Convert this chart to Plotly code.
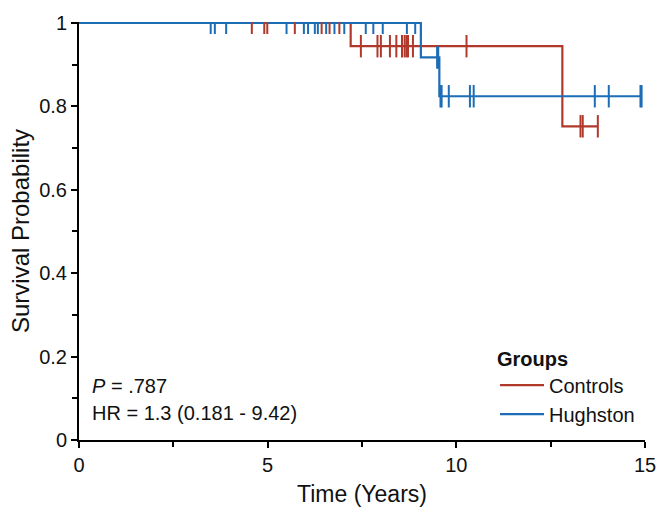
import plotly.graph_objects as go

# Kaplan-Meier step curves
controls_t = [0.0, 7.20, 12.81, 13.75]
controls_s = [1.0, 0.944, 0.752, 0.752]
hughston_t = [0.0, 9.06, 9.55, 14.91]
hughston_s = [1.0, 0.917, 0.824, 0.824]

# Censoring marks
controls_cens_t = [4.58, 4.91, 4.99, 5.72, 6.43, 6.64, 6.90,
                   7.47, 7.91, 8.00, 8.24, 8.41, 8.56, 8.63, 8.68, 8.72, 8.85, 10.27,
                   13.29, 13.35, 13.75]
controls_cens_s = [1.0, 1.0, 1.0, 1.0, 1.0, 1.0, 1.0,
                   0.944, 0.944, 0.944, 0.944, 0.944, 0.944, 0.944, 0.944, 0.944, 0.944, 0.944,
                   0.752, 0.752, 0.752]
hughston_cens_t = [3.49, 3.60, 3.90, 5.50, 5.96, 6.07, 6.25, 6.33, 6.55, 6.77, 7.03,
                   7.60, 7.80, 8.05, 8.69, 8.91,
                   9.49, 9.52,
                   9.58, 9.61, 9.80, 10.36, 10.46, 13.67, 14.04, 14.88, 14.91]
hughston_cens_s = [1.0] * 16 + [0.917] * 2 + [0.824] * 9

x_ticks = [0, 5, 10, 15]
y_ticks = [0, 0.2, 0.4, 0.6, 0.8, 1]

RED = "#B0392B"
BLUE = "#1D6DB6"
FONT = "Liberation Sans, Arial, sans-serif"

fig = go.Figure()
fig.add_trace(go.Scatter(x=controls_t, y=controls_s, mode="lines", line_shape="hv",
                         line=dict(color=RED, width=2.2), name="Controls"))
fig.add_trace(go.Scatter(x=hughston_t, y=hughston_s, mode="lines", line_shape="hv",
                         line=dict(color=BLUE, width=2.2), name="Hughston"))
fig.add_trace(go.Scatter(x=controls_cens_t, y=controls_cens_s, mode="markers", showlegend=False,
                         cliponaxis=True,
                         marker=dict(symbol="line-ns", size=16, line=dict(color=RED, width=2))))
fig.add_trace(go.Scatter(x=hughston_cens_t, y=hughston_cens_s, mode="markers", showlegend=False,
                         cliponaxis=True,
                         marker=dict(symbol="line-ns", size=16, line=dict(color=BLUE, width=2))))

fig.add_annotation(x=0.019, y=0.128, xref="paper", yref="paper", xanchor="left", yanchor="middle",
                   text="<i>P</i> = .787", showarrow=False, font=dict(size=20, color="#111", family=FONT))
fig.add_annotation(x=0.019, y=0.064, xref="paper", yref="paper", xanchor="left", yanchor="middle",
                   text="HR = 1.3 (0.181 - 9.42)", showarrow=False, font=dict(size=20, color="#111", family=FONT))

fig.update_layout(
    width=668, height=521,
    margin=dict(l=79, r=18, t=19, b=81),
    plot_bgcolor="white", paper_bgcolor="white",
    font=dict(family=FONT, size=20, color="#111"),
    legend=dict(x=0.735, y=0.24, xanchor="left", yanchor="top",
                title=dict(text="<b>Groups</b>", font=dict(size=20)),
                font=dict(size=20), bgcolor="rgba(0,0,0,0)", itemwidth=44,
                tracegroupgap=0),
    xaxis=dict(range=[0, 15], tickvals=x_ticks, ticks="outside", ticklen=6, tickwidth=1.5,
               tickcolor="black", showline=True, linecolor="black", linewidth=2,
               showgrid=False, zeroline=False,
               minor=dict(dtick=2.5, tick0=0, ticks="outside", ticklen=5, tickcolor="black", tickwidth=1.5),
               title=dict(text="Time (Years)", font=dict(size=23), standoff=11),
               tickfont=dict(size=20)),
    yaxis=dict(range=[0, 1.002], tickvals=y_ticks, ticks="outside", ticklen=6, tickwidth=1.5,
               tickcolor="black", showline=True, linecolor="black", linewidth=2,
               showgrid=False, zeroline=False,
               minor=dict(dtick=0.1, tick0=0, ticks="outside", ticklen=5, tickcolor="black", tickwidth=1.5),
               title=dict(text="Survival Probability", font=dict(size=24), standoff=3),
               tickfont=dict(size=20)),
)

fig.write_html("out.html")
